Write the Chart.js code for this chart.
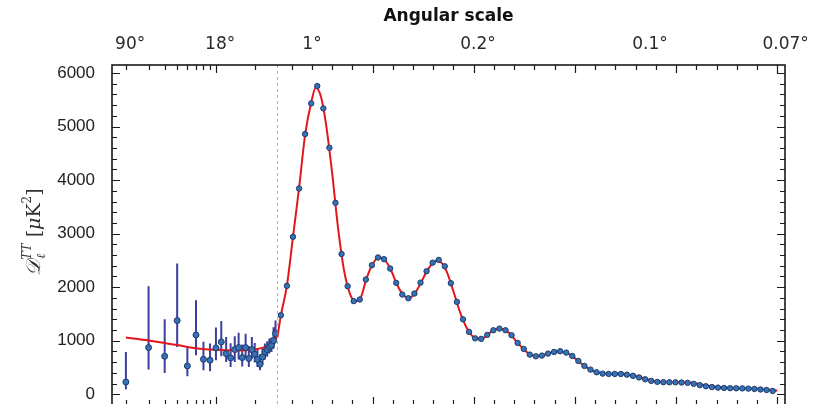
<!DOCTYPE html>
<html>
<head>
<meta charset="utf-8">
<script src="https://cdn.jsdelivr.net/npm/chart.js@4.4.1/dist/chart.umd.min.js"></script>
<style>
  html, body { margin: 0; padding: 0; background: #fff; overflow: hidden; }
  #wrap { width: 820px; height: 440px; }
</style>
</head>
<body>
<div id="wrap"><canvas id="cmb" width="820" height="440"></canvas></div>
<script>
// low-l points, l = 2..29, with their error bars
const lowEll   = [2, 3, 4, 5, 6, 7, 8, 9, 10, 11, 12, 13, 14, 15, 16, 17, 18, 19, 20, 21, 22, 23, 24, 25, 26, 27, 28, 29];
const lowD     = [230, 873, 710, 1377, 530, 1109, 654, 636, 866, 978, 760, 679, 835, 872, 685, 872, 667, 835, 748, 648, 561, 698, 791, 835, 885, 916, 1000, 1134];
const lowErrLo = [95, 462, 398, 884, 337, 729, 450, 430, 636, 710, 604, 511, 604, 650, 520, 680, 510, 660, 600, 510, 450, 560, 650, 700, 760, 790, 850, 980];
const lowErrHi = [790, 2018, 1402, 2443, 866, 1757, 980, 950, 1246, 1371, 1072, 953, 1084, 1150, 930, 1130, 900, 1070, 960, 840, 750, 870, 950, 990, 1040, 1060, 1250, 1380];

// binned high-l points (bins of 30)
const binEll = [47, 77, 107, 137, 167, 197, 227, 257, 287, 317, 347, 377, 407, 437, 467, 497, 527, 557, 587, 617,
                647, 677, 707, 737, 767, 797, 827, 857, 887, 917, 947, 977, 1007, 1037, 1067, 1097, 1127, 1157, 1187, 1217,
                1247, 1277, 1307, 1337, 1367, 1397, 1427, 1457, 1487, 1517, 1547, 1577, 1607, 1637, 1667, 1697, 1727, 1757, 1787, 1817,
                1847, 1877, 1907, 1937, 1967, 1997, 2027, 2057, 2087, 2117, 2147, 2177, 2207, 2237, 2267, 2297, 2327, 2357, 2387, 2417,
                2447, 2477];
const binD   = [1477, 2025, 2941, 3844, 4860, 5433, 5757, 5340, 4604, 3576, 2620, 2019, 1740, 1770, 2143, 2411, 2555, 2523, 2349, 2081,
                1863, 1794, 1882, 2085, 2299, 2458, 2510, 2390, 2075, 1726, 1400, 1165, 1045, 1035, 1110, 1196, 1227, 1196, 1103, 959,
                847, 741, 710, 723, 760, 791, 804, 779, 716, 623, 530, 461, 411, 386, 380, 380, 378, 367, 345, 315,
                280, 250, 232, 226, 224, 224, 220, 214, 195, 170, 150, 135, 125, 118, 114, 112, 110, 106, 100, 90,
                80, 62];

// best-fit model curve
const modelLowEll  = [2, 3, 4, 5, 6, 7, 8, 10, 12, 15, 18, 21, 24, 26, 28, 30];
const modelLowD    = [1060, 1005, 960, 920, 885, 860, 845, 830, 822, 820, 826, 845, 880, 915, 975, 1065];
const modelHighEll = [30, 47, 77, 107, 137, 167, 197, 220, 245, 270, 300, 330, 360, 390, 415, 440, 470, 500, 535, 560,
                      590, 620, 650, 680, 710, 740, 770, 800, 820, 845, 870, 900, 930, 960, 990, 1020, 1045, 1070, 1100, 1125,
                      1150, 1180, 1210, 1240, 1270, 1300, 1330, 1360, 1390, 1420, 1450, 1480, 1510, 1540, 1570, 1600, 1635, 1670, 1700, 1730,
                      1760, 1790, 1820, 1850, 1880, 1910, 1940, 1980, 2030, 2070, 2100, 2130, 2160, 2190, 2230, 2280, 2330, 2380, 2430, 2480, 2500];
const modelHighD   = [1065, 1470, 2030, 2940, 3850, 4850, 5450, 5730, 5560, 5050, 4150, 3100, 2300, 1860, 1740, 1790, 2160, 2430, 2560, 2510,
                      2330, 2060, 1860, 1800, 1890, 2090, 2310, 2460, 2500, 2440, 2260, 1920, 1560, 1280, 1100, 1035, 1045, 1120, 1200, 1225,
                      1210, 1130, 990, 870, 765, 715, 718, 752, 786, 800, 785, 732, 645, 550, 475, 418, 388, 380, 381, 382,
                      368, 350, 322, 290, 260, 238, 228, 224, 222, 214, 200, 178, 158, 140, 127, 117, 112, 106, 95, 78, 68];

// angular scale labels along the top
const topLabels   = ['90°', '18°', '1°', '0.2°', '0.1°', '0.07°'];
const topLabelEll = [2, 10, 180, 1000, 1850, 2520];
const yTicks = [0, 1000, 2000, 3000, 4000, 5000, 6000];

const pts = (xs, ys) => xs.map((x, i) => ({x: x, y: ys[i]}));

const errData = [];
lowEll.forEach(function (l, i) {
  errData.push({x: l, y: lowErrLo[i]}, {x: l, y: lowErrHi[i]}, {x: l, y: null});
});

function ellPixel(chart, v) {
  return v <= 30 ? chart.scales.xl.getPixelForValue(v) : chart.scales.xr.getPixelForValue(v);
}

const framePlugin = {
  id: 'frame',
  beforeDatasetsDraw(chart) {
    const ctx = chart.ctx, a = chart.chartArea;
    const x30 = Math.round(chart.scales.xr.getPixelForValue(30)) + 0.5;
    ctx.save();
    ctx.strokeStyle = '#b5b5b5';
    ctx.lineWidth = 1;
    ctx.setLineDash([3, 3]);
    ctx.beginPath();
    ctx.moveTo(x30, a.top);
    ctx.lineTo(x30, a.bottom);
    ctx.stroke();
    ctx.restore();
  },
  afterDraw(chart) {
    const ctx = chart.ctx, a = chart.chartArea, ys = chart.scales.y;
    ctx.save();
    ctx.strokeStyle = '#1a1a1a';

    // inward ticks
    ctx.lineWidth = 1.2;
    const xt = [];
    [2, 3, 4, 5, 6, 7, 8, 9, 10, 20].forEach(v => xt.push([chart.scales.xl.getPixelForValue(v), v === 10]));
    for (let v = 100; v <= 2500; v += 100) xt.push([chart.scales.xr.getPixelForValue(v), v % 500 === 0]);
    ctx.beginPath();
    xt.forEach(function (t) {
      const px = Math.round(t[0]) + 0.5, len = t[1] ? 8 : 5;
      ctx.moveTo(px, a.top); ctx.lineTo(px, a.top + len);
      ctx.moveTo(px, a.bottom); ctx.lineTo(px, a.bottom - len);
    });
    for (let v = 0; v <= 6000; v += 200) {
      const py = Math.round(ys.getPixelForValue(v)) + 0.5, len = v % 1000 === 0 ? 8 : 5;
      ctx.moveTo(a.left, py); ctx.lineTo(a.left + len, py);
      ctx.moveTo(a.right, py); ctx.lineTo(a.right - len, py);
    }
    ctx.stroke();

    // frame
    ctx.lineWidth = 1.6;
    ctx.strokeRect(a.left, a.top, a.right - a.left, a.bottom - a.top);

    // angular scale labels
    ctx.fillStyle = '#2a2a2a';
    ctx.font = '17px "DejaVu Sans"';
    ctx.textBaseline = 'middle';
    ctx.textAlign = 'left';
    topLabels.forEach(function (lab, i) {
      const num = lab.replace('°', '');
      const px = ellPixel(chart, topLabelEll[i]);
      ctx.fillText(lab, px - ctx.measureText(num).width / 2, 45);
    });

    ctx.font = 'bold 17px "DejaVu Sans"';
    ctx.textAlign = 'center';
    ctx.fillStyle = '#111';
    ctx.fillText('Angular scale', (a.left + a.right) / 2, 17);

    // y axis title, drawn rotated
    ctx.translate(33, 232);
    ctx.rotate(-Math.PI / 2);
    ctx.fillStyle = '#333';
    ctx.textBaseline = 'alphabetic';
    ctx.textAlign = 'left';
    const parts = [
      ['𝒟', 'italic 20px "DejaVu Serif"', 0],
      ['TT', 'italic 12px "DejaVu Serif"', -9],
      [' [', '19px "DejaVu Serif"', 0],
      ['μ', 'italic 19px "DejaVu Serif"', 0],
      ['K', '19px "DejaVu Serif"', 0],
      ['2', '12px "DejaVu Serif"', -9],
      [']', '19px "DejaVu Serif"', 0]
    ];
    let total = 0;
    parts.forEach(p => { ctx.font = p[1]; total += ctx.measureText(p[0]).width; });
    let cx = -total / 2;
    parts.forEach(function (p, i) {
      ctx.font = p[1];
      ctx.fillText(p[0], cx, 7 + p[2]);
      if (i === 1) {
        ctx.font = 'italic 12px "DejaVu Serif"';
        ctx.fillText('ℓ', cx + 1, 12);
      }
      cx += ctx.measureText(p[0]).width;
    });
    ctx.restore();
  }
};

const ptFill = '#3572b6', ptEdge = '#1e3a6a', red = '#e3161c';

new Chart(document.getElementById('cmb'), {
  type: 'scatter',
  data: {
    datasets: [
      { data: errData, xAxisID: 'xl', showLine: true, spanGaps: false, borderColor: '#3d3f9d', borderWidth: 2,
        pointRadius: 0, order: 4 },
      { data: pts(modelLowEll, modelLowD), xAxisID: 'xl', showLine: true, borderColor: red, borderWidth: 2,
        pointRadius: 0, cubicInterpolationMode: 'monotone', order: 3 },
      { data: pts(modelHighEll, modelHighD), xAxisID: 'xr', showLine: true, borderColor: red, borderWidth: 2,
        pointRadius: 0, cubicInterpolationMode: 'monotone', order: 3 },
      { data: pts(lowEll, lowD), xAxisID: 'xl', pointRadius: 3, pointBackgroundColor: ptFill,
        pointBorderColor: ptEdge, pointBorderWidth: 1, order: 1 },
      { data: pts(binEll, binD), xAxisID: 'xr', pointRadius: 2.7, pointBackgroundColor: ptFill,
        pointBorderColor: ptEdge, pointBorderWidth: 1, order: 1 }
    ]
  },
  options: {
    responsive: false,
    animation: false,
    devicePixelRatio: 1,
    layout: { padding: { top: 65, right: 35, bottom: 35, left: 0 } },
    plugins: { legend: { display: false }, tooltip: { enabled: false } },
    scales: {
      xl: { axis: 'x', type: 'logarithmic', position: 'bottom', stack: 'ell', stackWeight: 165.4,
            min: 1.56, max: 30, bounds: 'data', display: false },
      xr: { axis: 'x', type: 'linear', position: 'bottom', stack: 'ell', stackWeight: 507.6,
            min: 30, max: 2538, bounds: 'data', display: false },
      y: {
        type: 'linear', position: 'left', min: -200, max: 6150,
        afterBuildTicks: s => { s.ticks = yTicks.map(v => ({value: v})); },
        afterFit: s => { s.width = 112; },
        grid: { display: false },
        border: { display: false },
        ticks: {
          font: { family: '"Liberation Sans", Arial, sans-serif', size: 17 },
          color: '#222',
          padding: 9,
          callback: v => String(v)
        }
      }
    }
  },
  plugins: [framePlugin]
});
</script>
</body>
</html>
